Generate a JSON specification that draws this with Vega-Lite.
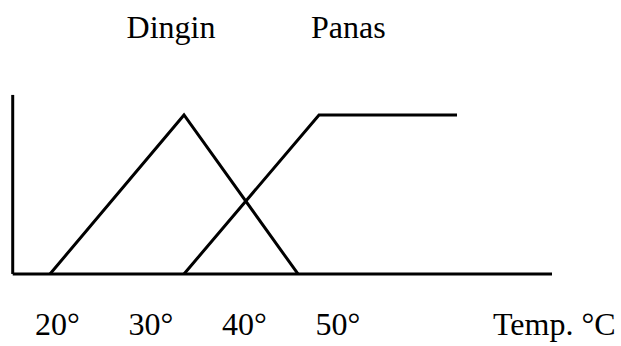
{
  "$schema": "https://vega.github.io/schema/vega-lite/v6.json",
  "width": 621,
  "height": 346,
  "autosize": {"type": "fit", "contains": "padding"},
  "padding": 0,
  "background": "white",
  "config": {"view": {"stroke": null}, "text": {"font": "Liberation Serif", "fontSize": 32, "color": "black"}},
  "datasets": {
    "membership": [
      {"set": "Dingin", "temp": 19.2, "mu": 0},
      {"set": "Dingin", "temp": 33.53, "mu": 1},
      {"set": "Dingin", "temp": 45.72, "mu": 0},
      {"set": "Panas", "temp": 33.53, "mu": 0},
      {"set": "Panas", "temp": 47.97, "mu": 1},
      {"set": "Panas", "temp": 62.73, "mu": 1}
    ],
    "names": [
      {"set": "Dingin", "temp": 32.14},
      {"set": "Panas", "temp": 51.1}
    ],
    "ticks": [
      {"temp": 20, "label": "20°"},
      {"temp": 30, "label": "30°"},
      {"temp": 40, "label": "40°"},
      {"temp": 50, "label": "50°"}
    ],
    "axisinfo": [
      {"start": 15.21, "end": 72.89, "low": 0, "top": 1.126, "title": "Temp. °C", "titleTemp": 66.58}
    ]
  },
  "layer": [
    {
      "data": {"name": "membership"},
      "mark": {"type": "line", "color": "black", "strokeWidth": 3, "strokeJoin": "miter"},
      "encoding": {
        "x": {"field": "temp", "type": "quantitative", "scale": {"domain": [13.85, 80.27], "nice": false, "zero": false}, "axis": null},
        "y": {"field": "mu", "type": "quantitative", "scale": {"domain": [-0.453, 1.723], "nice": false, "zero": false}, "axis": null},
        "detail": {"field": "set"},
        "order": {"field": "temp", "type": "quantitative"}
      }
    },
    {
      "data": {"name": "axisinfo"},
      "mark": {"type": "rule", "color": "black", "strokeWidth": 3},
      "encoding": {
        "x": {"field": "start", "type": "quantitative", "axis": null},
        "y": {"field": "low", "type": "quantitative", "axis": null},
        "y2": {"field": "top"}
      }
    },
    {
      "data": {"name": "axisinfo"},
      "mark": {"type": "rule", "color": "black", "strokeWidth": 3},
      "encoding": {
        "x": {"field": "start", "type": "quantitative", "axis": null},
        "x2": {"field": "end"},
        "y": {"field": "low", "type": "quantitative", "axis": null}
      }
    },
    {
      "data": {"name": "names"},
      "mark": {"type": "text", "align": "center", "baseline": "alphabetic"},
      "encoding": {
        "x": {"field": "temp", "type": "quantitative", "axis": null},
        "y": {"datum": 1.484, "type": "quantitative", "axis": null},
        "text": {"field": "set"}
      }
    },
    {
      "data": {"name": "ticks"},
      "mark": {"type": "text", "align": "center", "baseline": "alphabetic"},
      "encoding": {
        "x": {"field": "temp", "type": "quantitative", "axis": null},
        "y": {"datum": -0.384, "type": "quantitative", "axis": null},
        "text": {"field": "label"}
      }
    },
    {
      "data": {"name": "axisinfo"},
      "mark": {"type": "text", "align": "left", "baseline": "alphabetic"},
      "encoding": {
        "x": {"field": "titleTemp", "type": "quantitative", "axis": null},
        "y": {"datum": -0.384, "type": "quantitative", "axis": null},
        "text": {"field": "title"}
      }
    }
  ]
}
